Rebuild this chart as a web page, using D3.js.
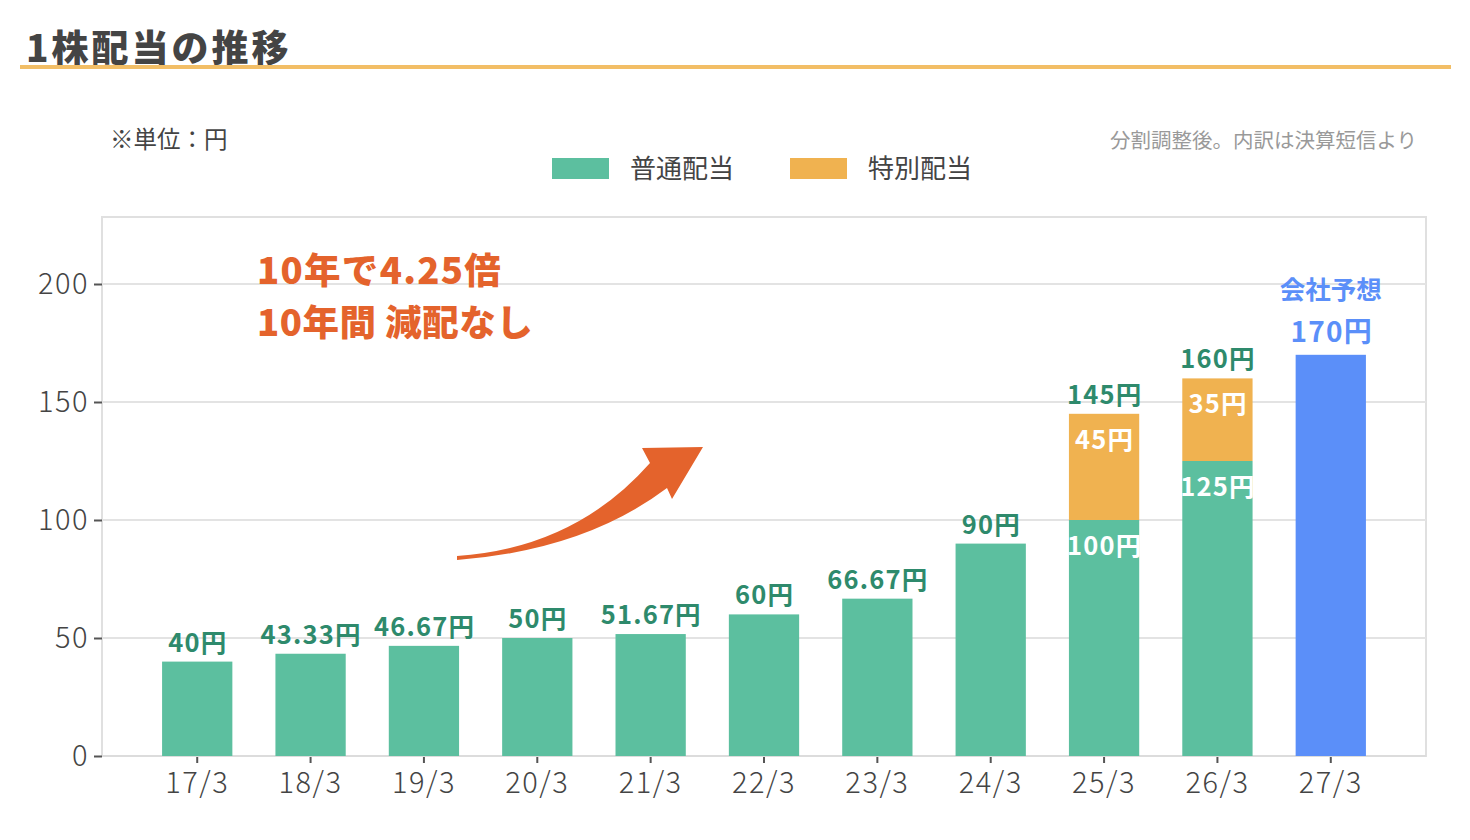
<!DOCTYPE html>
<html>
<head>
<meta charset="utf-8">
<script src="https://cdn.jsdelivr.net/npm/d3@7"></script>
<style>
  body { margin: 0; background: #fff; }
  svg { font-family: "Noto Sans CJK JP", "Noto Sans", sans-serif; }
</style>
</head>
<body>
<div class="chartContainer"></div>
<script>
// data
var categories = ['17/3', '18/3', '19/3', '20/3', '21/3', '22/3', '23/3', '24/3', '25/3', '26/3', '27/3'];
var regular = [40, 43.33, 46.67, 50, 51.67, 60, 66.67, 90, 100, 125, 0];
var special = [0, 0, 0, 0, 0, 0, 0, 0, 45, 35, 0];
var forecast = [0, 0, 0, 0, 0, 0, 0, 0, 0, 0, 170];
var yTicks = [0, 50, 100, 150, 200];
var legendNames = ['普通配当', '特別配当'];

const width = 1470;
const height = 840;
const plotLeft = 102, plotRight = 1426, plotTop = 217, plotBottom = 756;

const green = '#5cbf9f';
const orange = '#f0b250';
const blue = '#5b8ff9';
const darkGreen = '#2e8a6c';
const accent = '#e4632c';

const svg = d3.select('.chartContainer')
              .append('svg')
                .attr('width', width)
                .attr('height', height);

// title + underline
svg.append('text')
    .attr('x', 26)
    .attr('y', 62)
    .attr('font-size', 37)
    .attr('font-weight', 900)
    .attr('letter-spacing', 3)
    .attr('fill', '#444')
    .text('1株配当の推移');
svg.append('rect')
    .attr('x', 20).attr('y', 65)
    .attr('width', 1431).attr('height', 4)
    .attr('fill', '#f2be66');

svg.append('text')
    .attr('x', 110).attr('y', 148)
    .attr('font-size', 23.5)
    .attr('fill', '#444')
    .text('※単位：円');
svg.append('text')
    .attr('x', 1417).attr('y', 148)
    .attr('text-anchor', 'end')
    .attr('font-size', 20.5)
    .attr('fill', '#999')
    .text('分割調整後。内訳は決算短信より');

// legend
const legendX = [552, 790];
[green, orange].forEach((c, i) => {
    svg.append('rect')
        .attr('x', legendX[i]).attr('y', 158)
        .attr('width', 57).attr('height', 21)
        .attr('fill', c);
    svg.append('text')
        .attr('x', legendX[i] + 78).attr('y', 178)
        .attr('font-size', 26)
        .attr('fill', '#444')
        .text(legendNames[i]);
});

const xScale = d3.scaleBand()
                 .range([plotLeft, plotRight])
                 .domain(categories)
                 .paddingInner(0.38)
                 .paddingOuter(0.53);

const yScale = d3.scaleLinear()
                 .range([plotBottom, plotTop])
                 .domain([0, (plotBottom - plotTop) / 2.36]);

// plot frame
svg.append('rect')
    .attr('x', plotLeft).attr('y', plotTop)
    .attr('width', plotRight - plotLeft).attr('height', plotBottom - plotTop)
    .attr('fill', 'none')
    .attr('stroke', '#e0e0e0')
    .attr('stroke-width', 2);

// gridlines
svg.append('g')
    .selectAll('line')
    .data(yTicks.slice(1))
    .enter()
    .append('line')
      .attr('x1', plotLeft).attr('x2', plotRight)
      .attr('y1', d => yScale(d)).attr('y2', d => yScale(d))
      .attr('stroke', '#e3e3e3')
      .attr('stroke-width', 2);

// axes
const yAxis = svg.append('g')
    .attr('transform', `translate(${plotLeft}, 0)`)
    .call(d3.axisLeft(yScale).tickValues(yTicks).tickSize(8).tickPadding(6));
const xAxis = svg.append('g')
    .attr('transform', `translate(0, ${plotBottom})`)
    .call(d3.axisBottom(xScale).tickSize(7).tickPadding(9));
[yAxis, xAxis].forEach(ax => {
    ax.select('.domain').remove();
    ax.selectAll('line').attr('stroke', '#555').attr('stroke-width', 2);
    ax.selectAll('text')
        .attr('font-size', 29)
        .attr('font-weight', 300)
        .attr('letter-spacing', 1.5)
        .attr('fill', '#444')
        .attr('font-family', '"Noto Sans CJK JP", sans-serif');
});
yAxis.selectAll('text').attr('dx', 1);
svg.append('line')
    .attr('x1', plotLeft).attr('x2', plotRight)
    .attr('y1', plotBottom).attr('y2', plotBottom)
    .attr('stroke', '#dcdcdc').attr('stroke-width', 2);

const rows = categories.map((c, i) => ({
    cat: c, reg: regular[i], spe: special[i], fc: forecast[i]
}));
const bw = xScale.bandwidth();
const mid = d => xScale(d.cat) + bw / 2;

// regular dividend bars
svg.append('g').selectAll('rect')
    .data(rows.filter(d => d.reg > 0))
    .enter().append('rect')
      .attr('x', d => xScale(d.cat))
      .attr('y', d => yScale(d.reg))
      .attr('width', bw)
      .attr('height', d => yScale(0) - yScale(d.reg))
      .attr('fill', green);

// special dividend stacked on top
svg.append('g').selectAll('rect')
    .data(rows.filter(d => d.spe > 0))
    .enter().append('rect')
      .attr('x', d => xScale(d.cat))
      .attr('y', d => yScale(d.reg + d.spe))
      .attr('width', bw)
      .attr('height', d => yScale(d.reg) - yScale(d.reg + d.spe))
      .attr('fill', orange);

// forecast bar
svg.append('g').selectAll('rect')
    .data(rows.filter(d => d.fc > 0))
    .enter().append('rect')
      .attr('x', d => xScale(d.cat))
      .attr('y', d => yScale(d.fc))
      .attr('width', bw)
      .attr('height', d => yScale(0) - yScale(d.fc))
      .attr('fill', blue);

// value label helper
function label(g, data, y, txt, colour) {
    g.selectAll('text')
        .data(data)
        .enter().append('text')
          .attr('x', d => mid(d) + 0.6)
          .attr('y', y)
          .attr('text-anchor', 'middle')
          .attr('font-size', 25.5)
          .attr('font-weight', 700)
          .attr('letter-spacing', 1.2)
          .attr('fill', colour)
          .text(txt);
}

// total labels above bars
label(svg.append('g'), rows.filter(d => d.reg > 0),
      d => yScale(d.reg + d.spe) - 10, d => (d.reg + d.spe) + '円', darkGreen);

// inside labels for the stacked bars
const stacked = rows.filter(d => d.spe > 0);
label(svg.append('g'), stacked, d => yScale(d.reg + d.spe) + 35, d => d.spe + '円', '#fff');
label(svg.append('g'), stacked, d => yScale(d.reg) + 35, d => d.reg + '円', '#fff');

// forecast labels
rows.filter(d => d.fc > 0).forEach(d => {
    svg.append('text')
        .attr('x', mid(d) + 1).attr('y', yScale(d.fc) - 13)
        .attr('text-anchor', 'middle')
        .attr('font-size', 28).attr('font-weight', 700)
        .attr('letter-spacing', 1.2)
        .attr('fill', blue)
        .text(d.fc + '円');
    svg.append('text')
        .attr('x', mid(d)).attr('y', yScale(d.fc) - 56)
        .attr('text-anchor', 'middle')
        .attr('font-size', 25.5).attr('font-weight', 700)
        .attr('fill', blue)
        .text('会社予想');
});

// annotation
svg.append('text')
    .attr('x', 257).attr('y', 284)
    .attr('font-size', 36.5).attr('font-weight', 900)
    .attr('letter-spacing', 1.3)
    .attr('fill', accent)
    .text('10年で4.25倍');
svg.append('text')
    .attr('x', 257).attr('y', 336)
    .attr('font-size', 36.5).attr('font-weight', 900)
    .attr('letter-spacing', 0.5)
    .attr('fill', accent)
    .text('10年間 減配なし');

// curved arrow
svg.append('path')
    .attr('d', 'M457,556 Q575,548 650,463 L642,448 L703,447 L672,499 L667,488 Q585,550 457,560 Z')
    .attr('fill', accent);
</script>
</body>
</html>
